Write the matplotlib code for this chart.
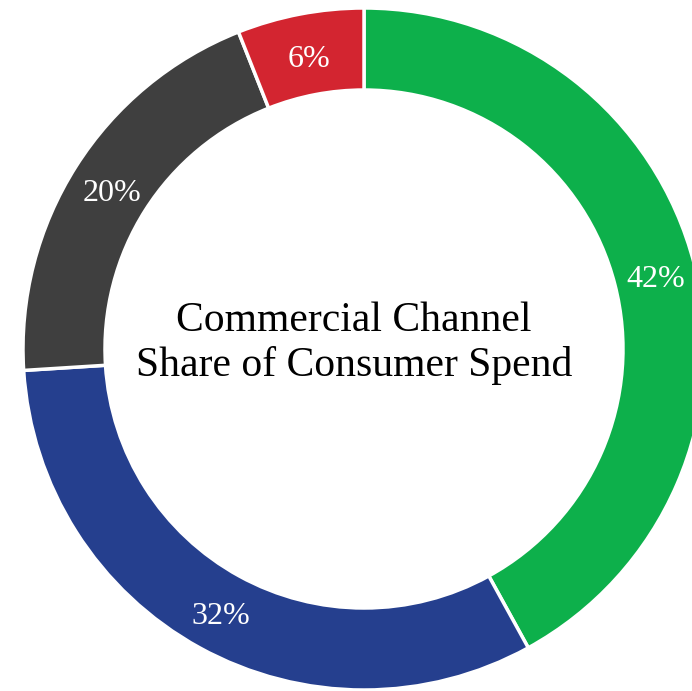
import matplotlib
matplotlib.use('Agg')
import matplotlib.pyplot as plt

# channel shares, clockwise from 12 o'clock
channels = ['Commercial', 'Retail', 'Other', 'Direct']
shares = [42, 32, 20, 6]
colors = ['#0db04b', '#253f8e', '#3f3f3f', '#d32530']
title_lines = ['Commercial Channel', 'Share of Consumer Spend']

W, H = 692, 691
fig = plt.figure(figsize=(W / 100, H / 100), dpi=100)
ax = fig.add_axes([0, 0, 1, 1])

cx, cy = 364, H - 349
r_out, r_in = 341, 259
ring = r_out - r_in

wedges, texts, autotexts = ax.pie(
    shares, colors=colors, startangle=90, counterclock=False,
    center=(cx, cy), radius=r_out, frame=True,
    wedgeprops=dict(width=ring, edgecolor='white', linewidth=2.5),
    autopct='%d%%', pctdistance=(r_in + ring / 2) / r_out,
    textprops=dict(color='white', fontsize=23, family='Liberation Serif'))
# nudge the percentage labels a little lower inside the ring
for t in autotexts:
    x, y = t.get_position()
    t.set_position((x + 1, y - 5))

ax.set_xlim(0, W)
ax.set_ylim(0, H)
ax.set_aspect('equal')
ax.axis('off')

ax.text(cx - 10, H - 331, title_lines[0], ha='center', va='baseline',
        fontsize=30, family='Liberation Serif', color='black')
ax.text(cx - 10, H - 376, title_lines[1], ha='center', va='baseline',
        fontsize=30, family='Liberation Serif', color='black')

fig.savefig('out.png', dpi=100)
